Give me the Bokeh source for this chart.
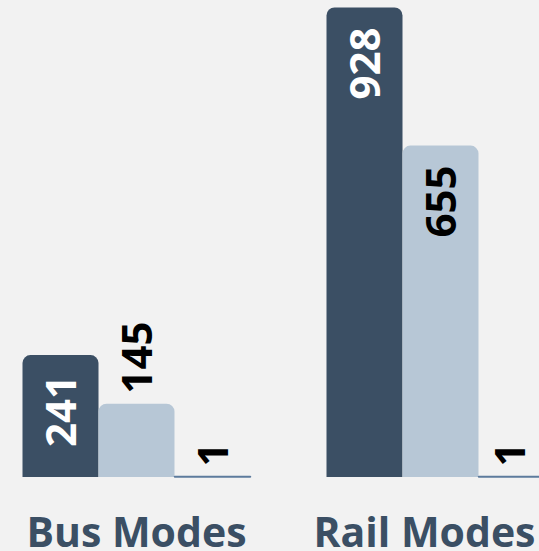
from bokeh.plotting import figure
from bokeh.models import ColumnDataSource, Range1d
from bokeh.core.properties import value
from bokeh.embed import file_html
from bokeh.resources import INLINE

# ---- data ----
groups = ["Bus Modes", "Rail Modes"]
series_names = ["Series A", "Series B", "Series C"]
series_a = [241, 928]
series_b = [145, 655]
series_c = [1, 1]

# ---- layout constants (pixels) ----
W, H = 539, 551
BG = "#f2f2f2"
SCALE = 0.506        # px per value unit
BASE_PX = 476.5      # baseline distance from top
BAR_PX = 76          # bar width in px
X0_PX = 60           # centre of first bar
GROUP_STEP = 4       # bar slots per group
FONT = "Open Sans"
LABEL_SIZE = 42
TEXT_LEN_PX = 72
PAD_IN, PAD_OUT = 20, 10
EDGE_PX = 30         # keep labels this far from the right edge

colors = ["#3b4f64", "#b7c7d6", "#5d7b9d"]
label_colors = ["white", "black", "black"]

p = figure(width=W, height=H,
           x_range=Range1d(-X0_PX / BAR_PX, (W - X0_PX) / BAR_PX),
           y_range=Range1d(-(H - BASE_PX) / SCALE, BASE_PX / SCALE),
           min_border=0, toolbar_location=None, output_backend="svg",
           background_fill_color=BG, border_fill_color=BG,
           outline_line_color=None)
p.axis.visible = False
p.grid.visible = False

x_max_label = (W - EDGE_PX - X0_PX) / BAR_PX
all_series = [series_a, series_b, series_c]
for i, vals in enumerate(all_series):
    xs = [g * GROUP_STEP + i for g in range(len(groups))]
    src = ColumnDataSource(dict(x=xs, top=vals))
    if i < 2:
        p.vbar(x="x", top="top", width=1, source=src, fill_color=colors[i],
               line_color=None, border_radius=(8, 8, 0, 0))
    else:
        p.vbar(x="x", top="top", width=1, source=src, fill_color=colors[i],
               line_color=colors[i], line_width=1.5)

    # value labels, rotated, inside if they fit, otherwise above the bar
    lx, ly, la, lt = [], [], [], []
    for x, v in zip(xs, vals):
        inside = v * SCALE >= TEXT_LEN_PX + PAD_IN
        lx.append(min(x, x_max_label))
        if inside:
            ly.append(v - PAD_IN / SCALE)
            la.append("right")
        else:
            ly.append(v + PAD_OUT / SCALE)
            la.append("left")
        lt.append(str(v))
    lsrc = ColumnDataSource(dict(x=lx, y=ly, align=la, text=lt))
    p.text(x="x", y="y", text="text", source=lsrc, angle=1.5707963,
           text_align="align", text_baseline="middle",
           text_font=value(FONT), text_font_style="bold",
           text_font_size=f"{LABEL_SIZE}px", text_color=label_colors[i])

# category labels
cat_y = -(530 - BASE_PX) / SCALE
n_bars = len(all_series)
x_end = (W - 4 - X0_PX) / BAR_PX
for g, name in enumerate(groups):
    centre = g * GROUP_STEP + (n_bars - 1) / 2
    last = g == len(groups) - 1
    p.text(x=[x_end if last else centre], y=[cat_y], text=[name],
           text_align="right" if last else "center",
           text_baseline="middle",
           text_font=value(FONT), text_font_style="bold",
           text_font_size="41px", text_color="#3b4f64")

html = file_html(p, INLINE)
i = html.rfind("</head>")
html = html[:i] + "<style>html,body{margin:0;padding:0;background:#f2f2f2;overflow:hidden}</style>" + html[i:]
open("out.html", "w").write(html)
